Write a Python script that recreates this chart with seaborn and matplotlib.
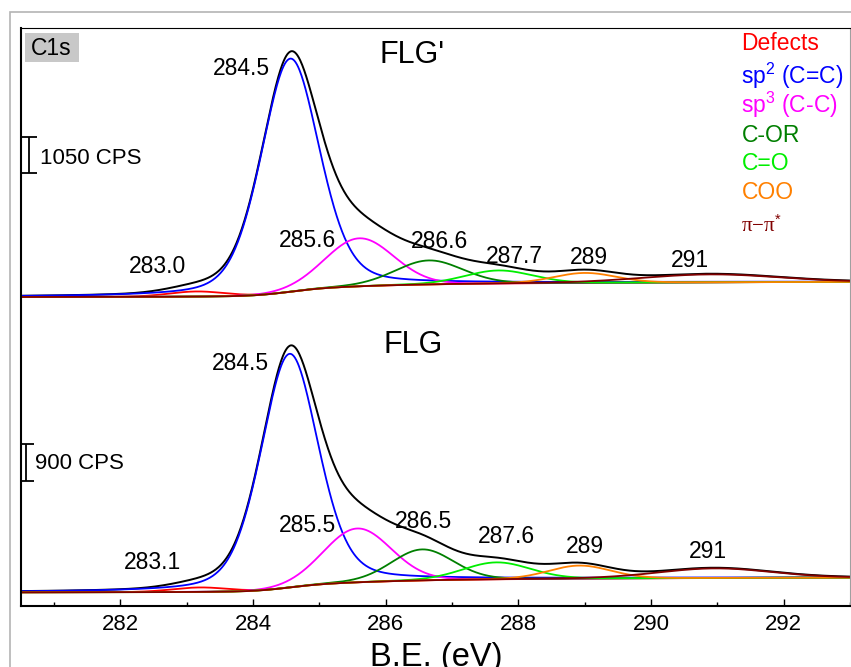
import numpy as np
import pandas as pd
import matplotlib
matplotlib.use("Agg")
import matplotlib.pyplot as plt
import seaborn as sns
from matplotlib.ticker import MultipleLocator
from matplotlib.patches import Rectangle

# --- DATA ---
COMPONENTS = ["Defects", "sp$^{2}$ (C=C)", "sp$^{3}$ (C-C)", "C-OR", "C=O", "COO", "π−π"]
COLORS = ["#ff0000", "#0000ff", "#ff00ff", "#007f00", "#00ee00", "#ff8000", "#800000"]
LORENTZ_MIX = [0.1, 0.3, 0.05, 0.1, 0.1, 0.1, 0.1]

# FLG' (upper spectrum): centre (eV), height (CPS), FWHM (eV)
FLGP_CENTER = [283.15, 284.56, 285.60, 286.65, 287.70, 289.00, 290.90]
FLGP_HEIGHT = [150, 6800, 1400, 700, 380, 290, 230]
FLGP_FWHM = [1.0, 1.04, 1.22, 1.2, 1.2, 1.1, 2.4]
FLGP_STEP = 440          # Shirley background step (CPS)
FLGP_LABELS = ["283.0", "284.5", "285.6", "286.6", "287.7", "289", "291"]

# FLG (lower spectrum)
FLG_CENTER = [283.20, 284.55, 285.57, 286.55, 287.67, 288.92, 290.96]
FLG_HEIGHT = [110, 5730, 1320, 760, 415, 320, 235]
FLG_FWHM = [1.0, 1.02, 1.2, 1.1, 1.2, 1.1, 2.0]
FLG_STEP = 360
FLG_LABELS = ["283.1", "284.5", "285.5", "286.5", "287.6", "289", "291"]

# --- LAYOUT ---
BE = np.linspace(280.5, 293.0, 1251)
panels = [
    dict(name="FLG'", center=FLGP_CENTER, height=FLGP_HEIGHT, fwhm=FLGP_FWHM, step=FLGP_STEP,
         labels=FLGP_LABELS, offset=309.0, bar_cps=1050, bar_len=36.0,
         bar_x=280.62, bar_mid=451.0, bar_txt=(280.79, 442.0), title_y=0.9394, title_x=0.472,
         lab_x=[282.561, 283.824, 284.817, 286.817, 287.944, 289.057, 290.591],
         lab_y=[332.7, 531.0, 358.7, 357.7, 342.7, 341.7, 339.3]),
    dict(name="FLG", center=FLG_CENTER, height=FLG_HEIGHT, fwhm=FLG_FWHM, step=FLG_STEP,
         labels=FLG_LABELS, offset=13.7, bar_cps=900, bar_len=36.7,
         bar_x=280.58, bar_mid=143.7, bar_txt=(280.71, 137.0), title_y=0.438, title_x=0.4735,
         lab_x=[282.478, 283.809, 284.817, 286.576, 287.824, 288.997, 290.854],
         lab_y=[36.7, 236.0, 74.3, 77.7, 63.3, 53.3, 47.7]),
]


def gl_peak(x, c, h, w, m):
    g = np.exp(-4 * np.log(2) * (x - c) ** 2 / w ** 2)
    l = 1.0 / (1.0 + 4 * (x - c) ** 2 / w ** 2)
    return h * ((1 - m) * g + m * l)


sns.set_theme(style="white")
plt.rcParams["font.family"] = ["Liberation Sans", "DejaVu Sans"]
plt.rcParams["text.color"] = "black"
plt.rcParams["axes.labelcolor"] = "black"
plt.rcParams["xtick.color"] = "black"
plt.rcParams["mathtext.fontset"] = "custom"
plt.rcParams["mathtext.rm"] = "Liberation Sans"
plt.rcParams["mathtext.it"] = "Liberation Sans:italic"

fig = plt.figure(figsize=(8.51, 6.67), dpi=100)
ax = fig.add_axes([21 / 851, 61 / 667, 829 / 851, 578 / 667])

for p in panels:
    scale = p["bar_len"] / p["bar_cps"]
    peaks = [gl_peak(BE, c, h, w, m) for c, h, w, m in
             zip(p["center"], p["height"], p["fwhm"], LORENTZ_MIX)]
    total = np.sum(peaks, axis=0)
    cum = np.cumsum(total)
    bg = p["step"] * cum / cum[-1]   # Shirley-type background
    base = p["offset"]

    df = pd.DataFrame({"BE": BE, "y": base + (bg + total) * scale})
    sns.lineplot(data=df, x="BE", y="y", color="black", lw=1.4, estimator=None, ax=ax)
    for i in range(len(COMPONENTS)):
        dfc = pd.DataFrame({"BE": BE, "y": base + (bg + peaks[i]) * scale})
        sns.lineplot(data=dfc, x="BE", y="y", color=COLORS[i], lw=1.3, estimator=None, ax=ax)

    for lx, ly, lab in zip(p["lab_x"], p["lab_y"], p["labels"]):
        ax.text(lx, ly, lab, ha="center", va="baseline", fontsize=16.5)

    ax.errorbar(p["bar_x"], p["bar_mid"], yerr=p["bar_len"] / 2, color="black",
                capsize=5.5, elinewidth=1.3, capthick=1.3)
    ax.text(p["bar_txt"][0], p["bar_txt"][1], f"{p['bar_cps']} CPS", ha="left",
            va="baseline", fontsize=16)
    ax.text(p["title_x"], p["title_y"], p["name"], transform=ax.transAxes,
            ha="center", va="baseline", fontsize=22)

# C1s tag
ax.add_patch(Rectangle((0.0048, 0.941), 0.0652, 0.0503, transform=ax.transAxes,
                       facecolor="#c8c8c8", edgecolor="none"))
ax.text(0.0117, 0.953, "C1s", transform=ax.transAxes, ha="left", va="baseline", fontsize=16.5)

# colour legend as text
leg_y = [0.962, 0.904, 0.853, 0.803, 0.754, 0.705]
for name, col, yy in zip(COMPONENTS[:6], COLORS[:6], leg_y):
    ax.text(0.869, yy, name, color=col, transform=ax.transAxes, ha="left",
            va="baseline", fontsize=16.5)
ax.text(0.869, 0.648, "π−π$^{*}$", color=COLORS[6], transform=ax.transAxes, ha="left",
        va="baseline", fontsize=15, family=["Liberation Serif", "DejaVu Serif"])

ax.set_xlim(280.5, 293.0)
ax.set_ylim(0, 578)
ax.set_yticks([])
ax.set_ylabel("")
ax.xaxis.set_major_locator(MultipleLocator(2))
ax.xaxis.set_minor_locator(MultipleLocator(1))
ax.tick_params(axis="x", which="major", direction="in", length=5, width=1,
               labelsize=16, pad=6, bottom=True, top=False, colors="black")
ax.tick_params(axis="x", which="minor", direction="in", length=3, width=1,
               bottom=True, top=False, colors="black")
ax.set_xlabel("B.E. (eV)", fontsize=23.5, color="black")
ax.xaxis.set_label_coords(0.501, -0.104)
ax.xaxis.label.set_va("baseline")

for side in ["left", "bottom"]:
    ax.spines[side].set_color("black")
    ax.spines[side].set_linewidth(1.5)
ax.spines["top"].set_color("black")
ax.spines["top"].set_linewidth(0.8)
ax.spines["right"].set_color("#a0a0a0")
ax.spines["right"].set_linewidth(0.8)
for s in ax.spines.values():
    s.set_visible(True)

# outer grey frame
fig.add_artist(Rectangle((9.5 / 851, -0.1), 1.0, 1.1 - 12 / 667, transform=fig.transFigure,
                         facecolor="none", edgecolor="#b4b4b4", lw=1.2, clip_on=False))

fig.savefig("out.png", dpi=100)
